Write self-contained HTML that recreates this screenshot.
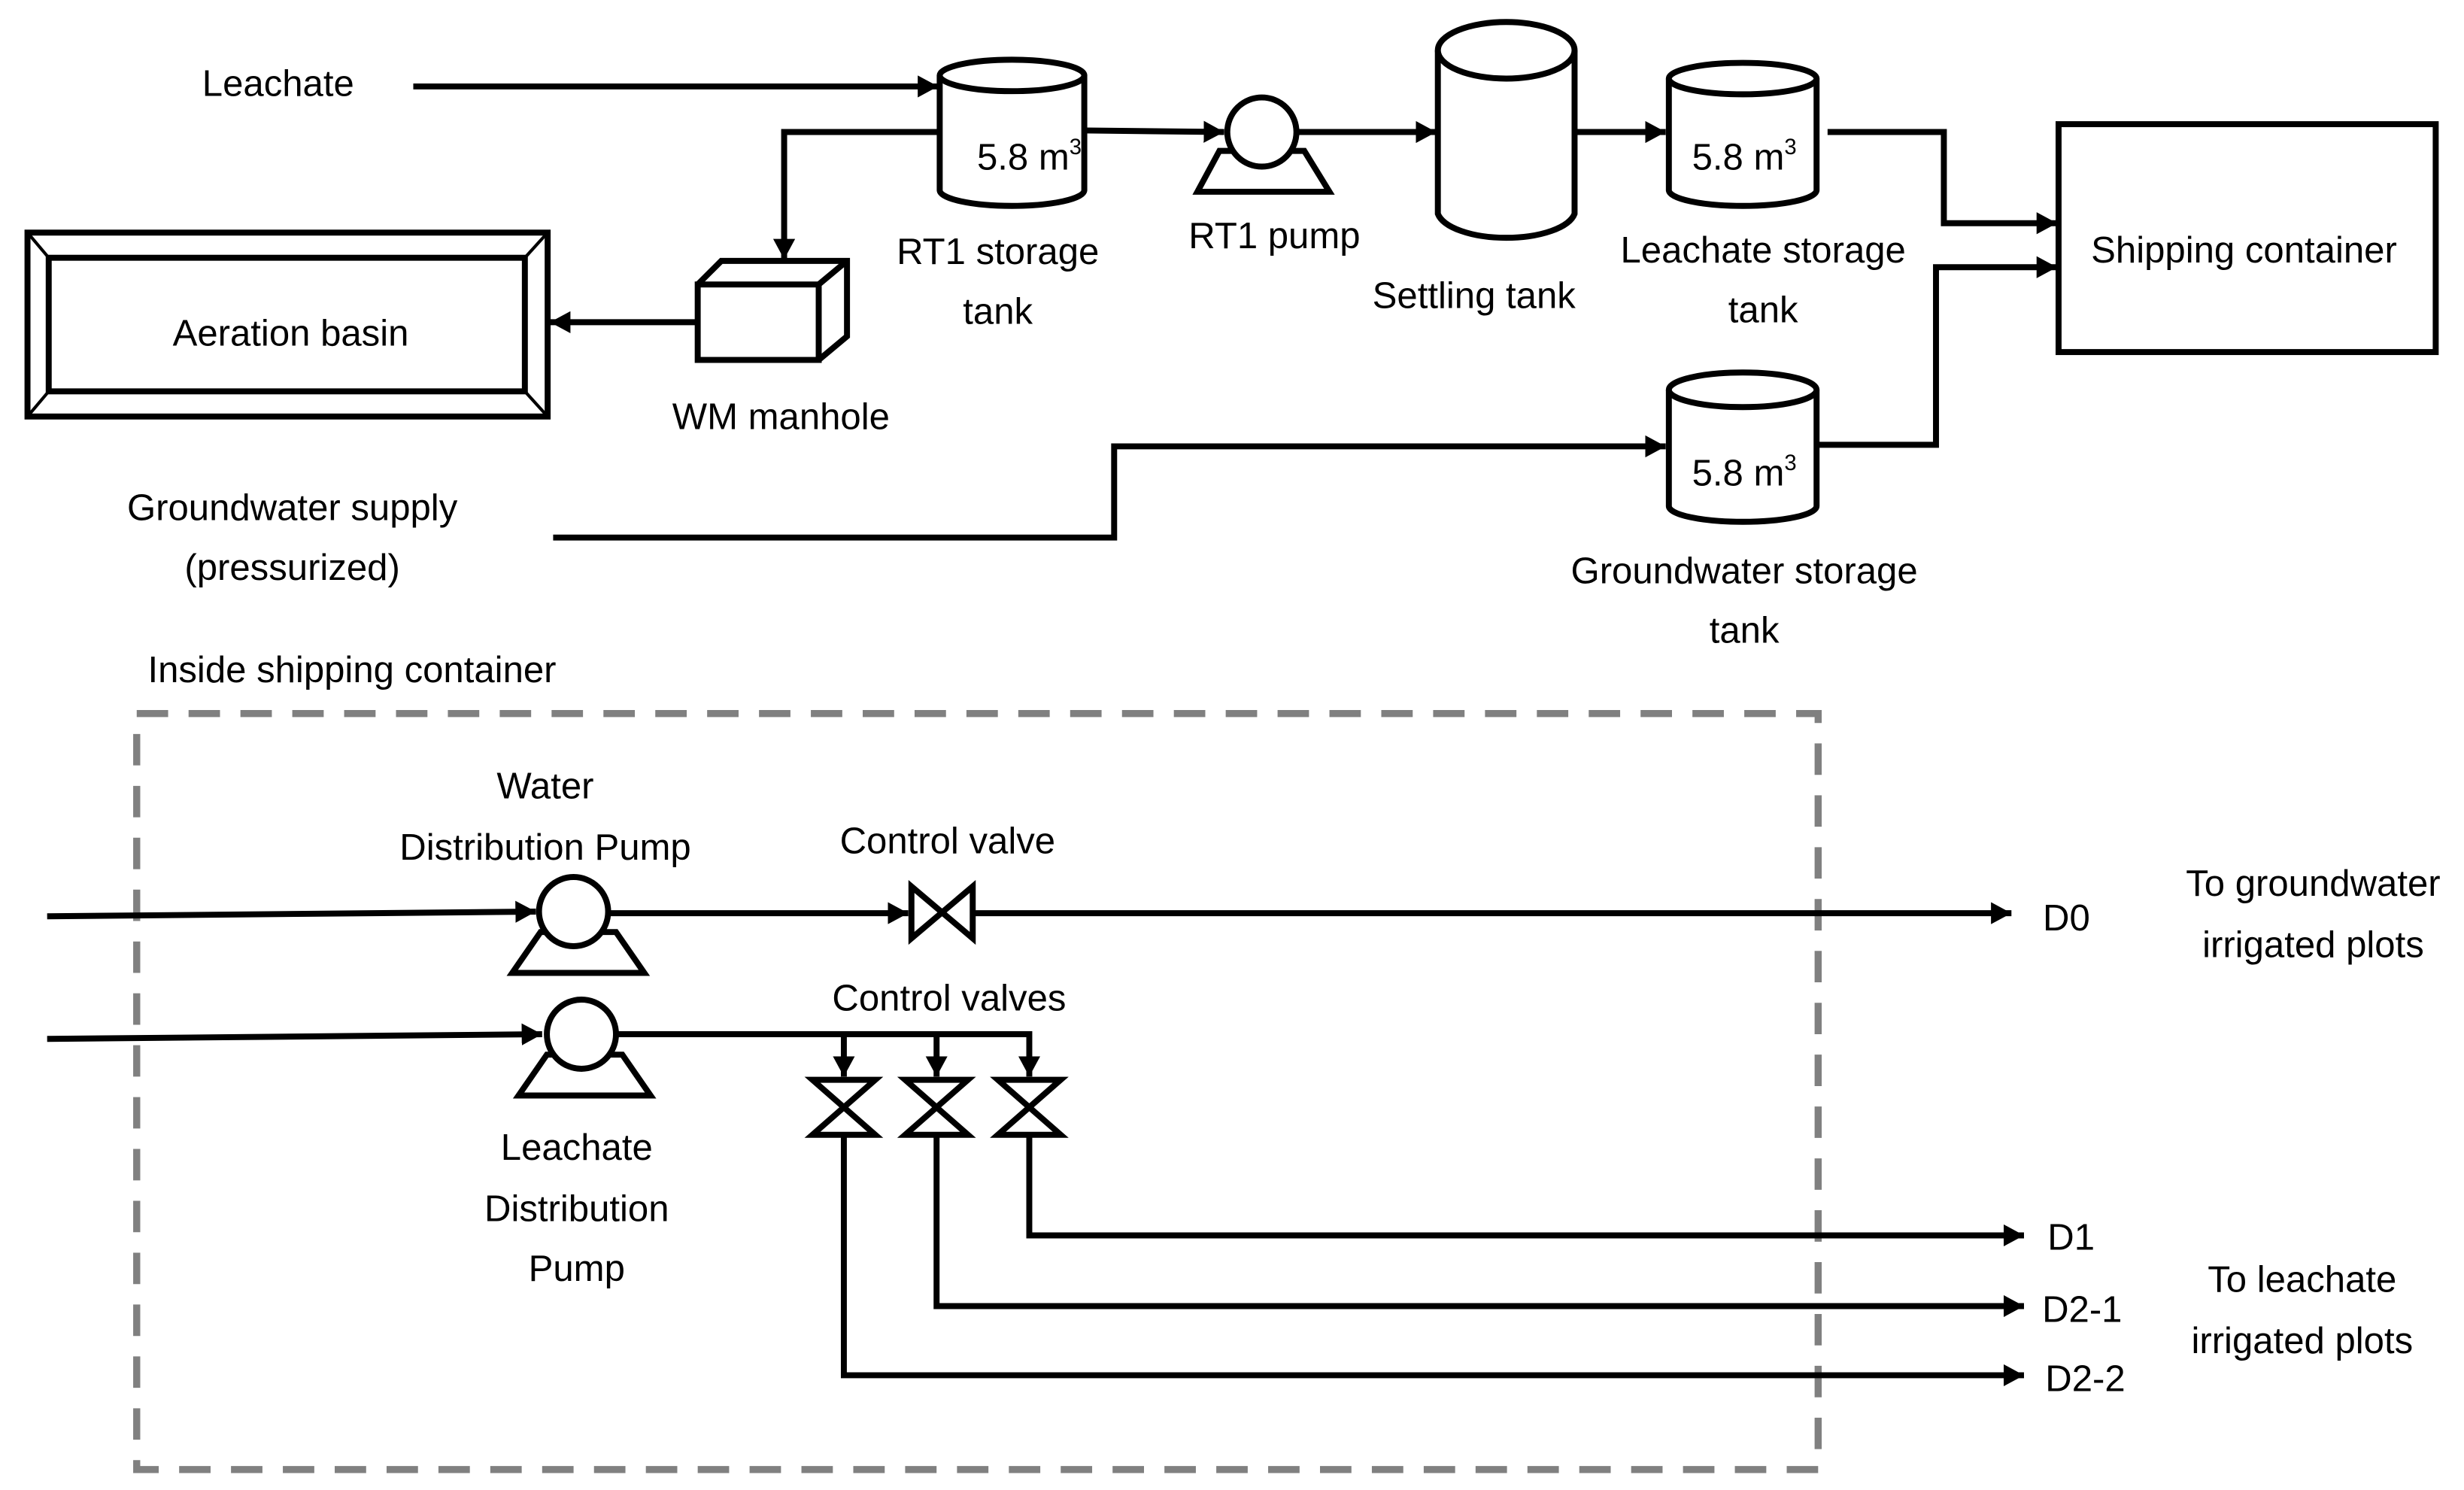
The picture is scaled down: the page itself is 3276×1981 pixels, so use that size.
<!DOCTYPE html>
<html><head><meta charset="utf-8"><style>
html,body{margin:0;padding:0;background:#fff;}
svg{display:block;}
text{font-family:"Liberation Sans",sans-serif;font-size:23.5px;fill:#000;text-anchor:middle;}
</style></head><body>
<svg width="3276" height="1981" viewBox="0 0 1568 948" preserveAspectRatio="none" xmlns="http://www.w3.org/2000/svg">
<defs>
<marker id="a" markerUnits="userSpaceOnUse" markerWidth="14" markerHeight="14" refX="13" refY="7" orient="auto">
<path d="M0,0 L13,7 L0,14 Z" fill="#000"/>
</marker>
</defs>
<g fill="none" stroke="#000" stroke-width="3.8">
<path d="M263,55 L597,55" marker-end="url(#a)"/>
<path d="M598,48 L598,121 A46,10 0 0 0 690,121 L690,48" fill="#fff"/>
<ellipse cx="644" cy="48" rx="46" ry="10" fill="#fff"/>
<path d="M597,84 L499,84 L499,165" marker-end="url(#a)"/>
<path d="M690,83 L779,84" marker-end="url(#a)"/>
<rect x="444" y="181" width="77" height="48" fill="#fff"/>
<path d="M444,181 L459,166 L539,166 L539,214 L521,229 M521,181 L539,166"/>
<path d="M444,205 L350,205" marker-end="url(#a)"/>
<rect x="17.5" y="148" width="331" height="117"/>
<rect x="31" y="164" width="303" height="85"/>
<path d="M17.5,148 L31,164 M348.5,148 L334,164 M17.5,265 L31,249 M348.5,265 L334,249" stroke-width="2"/>
<path d="M762,122 L846,122 L830,96 L776,96 Z" fill="#fff"/>
<circle cx="803" cy="84" r="22" fill="#fff"/>
<path d="M826,84 L914,84" marker-end="url(#a)"/>
<path d="M915,32 L915,136 A44,18 0 0 0 1002,136 L1002,32" fill="#fff"/>
<ellipse cx="958.5" cy="32" rx="43.5" ry="18" fill="#fff"/>
<path d="M1002,84 L1060,84" marker-end="url(#a)"/>
<path d="M1062,50 L1062,121 A47,10 0 0 0 1156,121 L1156,50" fill="#fff"/>
<ellipse cx="1109" cy="50" rx="47" ry="10" fill="#fff"/>
<path d="M1163,84 L1237,84 L1237,142 L1309,142" marker-end="url(#a)"/>
<rect x="1310" y="79" width="240" height="145"/>
<path d="M352,342 L709,342 L709,284 L1060,284" marker-end="url(#a)"/>
<path d="M1062,248 L1062,322 A47,10 0 0 0 1156,322 L1156,248" fill="#fff"/>
<ellipse cx="1109" cy="248" rx="47" ry="11" fill="#fff"/>
<path d="M1156,283 L1232,283 L1232,170 L1309,170" marker-end="url(#a)"/>
</g>
<rect x="87" y="454" width="1070" height="481" fill="none" stroke="#808080" stroke-width="4.5" stroke-dasharray="20 13"/>
<g fill="none" stroke="#000" stroke-width="3.8">
<path d="M30,583 L341,580" marker-end="url(#a)"/>
<path d="M326,619 L410,619 L392,593 L344,593 Z" fill="#fff"/>
<circle cx="365" cy="580" r="22" fill="#fff"/>
<path d="M387,581 L578,581" marker-end="url(#a)"/>
<path d="M580,564 L580,597 L619,564 L619,597 Z" fill="#fff"/>
<path d="M620,581 L1280,581" marker-end="url(#a)"/>
<path d="M30,661 L345,658" marker-end="url(#a)"/>
<path d="M330,697 L414,697 L396,671 L348,671 Z" fill="#fff"/>
<circle cx="370" cy="658" r="22" fill="#fff"/>
<path d="M392,658 L655,658 L655,685" marker-end="url(#a)"/>
<path d="M537,658 L537,685" marker-end="url(#a)"/>
<path d="M596,658 L596,685" marker-end="url(#a)"/>
<path d="M517,687 L557,687 L517,722 L557,722 Z" fill="#fff"/>
<path d="M576,687 L616,687 L576,722 L616,722 Z" fill="#fff"/>
<path d="M635,687 L675,687 L635,722 L675,722 Z" fill="#fff"/>
<path d="M655,722 L655,786 L1288,786" marker-end="url(#a)"/>
<path d="M596,722 L596,831 L1288,831" marker-end="url(#a)"/>
<path d="M537,722 L537,875 L1288,875" marker-end="url(#a)"/>
</g>
<text x="177" y="61">Leachate</text>
<text x="655" y="108">5.8 m<tspan dy="-10" font-size="14">3</tspan></text>
<text x="1110" y="108">5.8 m<tspan dy="-10" font-size="14">3</tspan></text>
<text x="1110" y="309">5.8 m<tspan dy="-10" font-size="14">3</tspan></text>
<text x="185" y="220">Aeration basin</text>
<text x="497" y="273">WM manhole</text>
<text x="635" y="168">RT1 storage</text>
<text x="635" y="206">tank</text>
<text x="811" y="158">RT1 pump</text>
<text x="938" y="196">Settling tank</text>
<text x="1122" y="167">Leachate storage</text>
<text x="1122" y="205">tank</text>
<text x="1428" y="167">Shipping container</text>
<text x="186" y="331">Groundwater supply</text>
<text x="186" y="369">(pressurized)</text>
<text x="1110" y="371">Groundwater storage</text>
<text x="1110" y="409">tank</text>
<text x="224" y="434">Inside shipping container</text>
<text x="347" y="508">Water</text>
<text x="347" y="547">Distribution Pump</text>
<text x="603" y="543">Control valve</text>
<text x="604" y="643">Control valves</text>
<text x="367" y="738">Leachate</text>
<text x="367" y="777">Distribution</text>
<text x="367" y="815">Pump</text>
<text x="1315" y="592">D0</text>
<text x="1318" y="795">D1</text>
<text x="1325" y="841">D2-1</text>
<text x="1327" y="885">D2-2</text>
<text x="1472" y="570">To groundwater</text>
<text x="1472" y="609">irrigated plots</text>
<text x="1465" y="822">To leachate</text>
<text x="1465" y="861">irrigated plots</text>
</svg>
</body></html>
